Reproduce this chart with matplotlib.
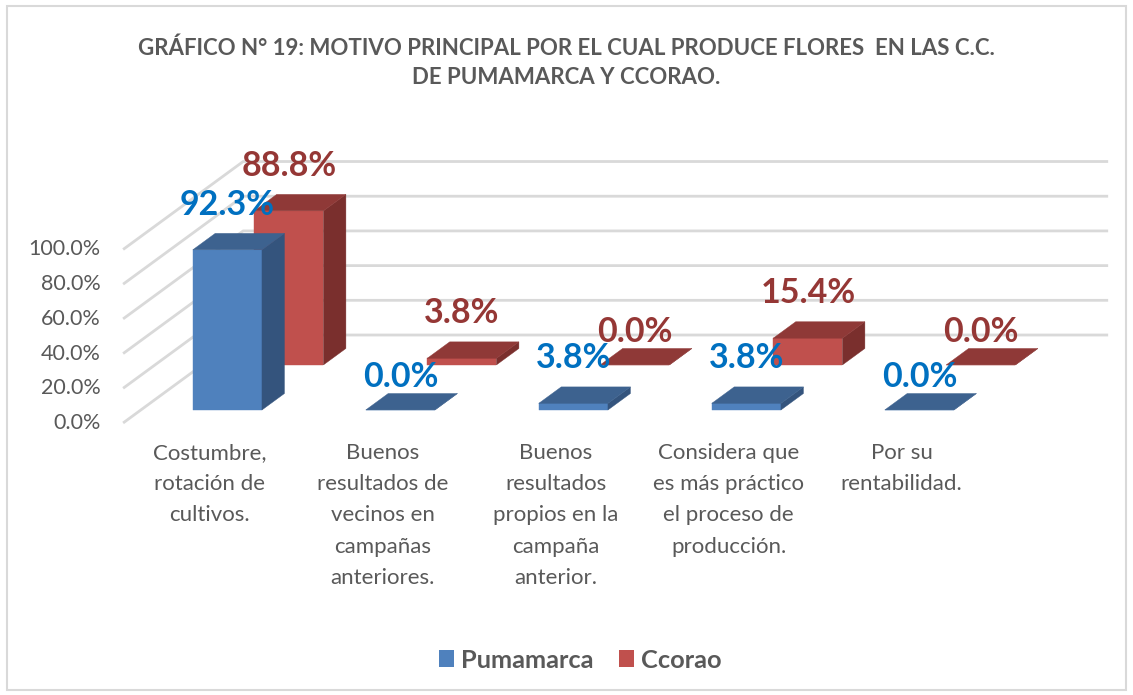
import matplotlib.pyplot as plt
from matplotlib.patches import Polygon, Patch, Rectangle

# ── Data ──────────────────────────────────────────────────────────────────────
categories = [
    "Costumbre,\nrotación de\ncultivos.",
    "Buenos\nresultados de\nvecinos en\ncampañas\nanteriores.",
    "Buenos\nresultados\npropios en la\ncampaña\nanterior.",
    "Considera que\nes más práctico\nel proceso de\nproducción.",
    "Por su\nrentabilidad.",
]
pumamarca = [92.3, 0.0, 3.8, 3.8, 0.0]
ccorao = [88.8, 3.8, 0.0, 15.4, 0.0]
series_names = ["Pumamarca", "Ccorao"]
yticks = [0, 20, 40, 60, 80, 100]

TITLE = ("GRÁFICO N° 19: MOTIVO PRINCIPAL POR EL CUAL PRODUCE FLORES  EN LAS C.C.\n"
         "DE PUMAMARCA Y CCORAO.")

# ── Style ─────────────────────────────────────────────────────────────────────
GREY = "#595959"
GRID = "#D9D9D9"
BLUE = dict(front="#4F81BD", top="#3D628F", side="#34547D", label="#0070C0")
RED = dict(front="#C0504D", top="#8F3937", side="#7A2F2D", label="#953735")

# oblique projection: a step of depth z (0 = front of wall, 1 = back wall)
# shifts a point by DX categories to the right and DY percent upward
DX, DY = 0.694, 50.7
BAR_W = 0.4
DEPTH = {"Pumamarca": (0.148, 0.335), "Ccorao": (0.66, 0.847)}

plt.rcParams["font.family"] = ["Lato", "DejaVu Sans"]

fig = plt.figure(figsize=(11.33, 6.95), dpi=100)
ax = fig.add_axes([0, 0, 1, 1])
ax.set_xlim(-1.2116, 5.3376)
ax.set_ylim(-156.8, 243.8)
ax.axis("off")


def proj(x, y, z):
    return (x + z * DX, y + z * DY)


# ── Walls / gridlines ─────────────────────────────────────────────────────────
x0, x1 = -0.5, len(categories) - 0.5
for t in yticks:
    ax.plot(*zip(proj(x0, t, 0), proj(x0, t, 1), proj(x1, t, 1)),
            color=GRID, lw=2, zorder=1, solid_capstyle="butt")
    ax.text(x0 - 0.13, t, f"{t:.1f}%", ha="right", va="center",
            fontsize=15.5, color=GREY)


# ── Bars ──────────────────────────────────────────────────────────────────────
def draw_bar(i, v, zf, zb, col, zo):
    l, r = i - BAR_W / 2, i + BAR_W / 2
    front = [proj(l, 0, zf), proj(r, 0, zf), proj(r, v, zf), proj(l, v, zf)]
    side = [proj(r, 0, zf), proj(r, 0, zb), proj(r, v, zb), proj(r, v, zf)]
    top = [proj(l, v, zf), proj(r, v, zf), proj(r, v, zb), proj(l, v, zb)]
    for pts, c in ((front, col["front"]), (side, col["side"]), (top, col["top"])):
        ax.add_patch(Polygon(pts, closed=True, facecolor=c, edgecolor=c,
                             lw=0.3, zorder=zo))


def draw_label(i, v, zf, col):
    off = 26 if v > 0 else 19
    x, y = proj(i, v, zf)
    ax.text(x, y + off, f"{v:.1f}%", ha="center", va="center",
            fontsize=24.5, fontweight="bold", color=col["label"], zorder=10)


for name, vals, col, zo in (("Ccorao", ccorao, RED, 3), ("Pumamarca", pumamarca, BLUE, 5)):
    zf, zb = DEPTH[name]
    for i, v in enumerate(vals):
        draw_bar(i, v, zf, zb, col, zo)

for name, vals, col in (("Ccorao", ccorao, RED), ("Pumamarca", pumamarca, BLUE)):
    zf, _ = DEPTH[name]
    for i, v in enumerate(vals):
        draw_label(i, v, zf, col)

# ── Category labels ───────────────────────────────────────────────────────────
for i, lab in enumerate(categories):
    ax.text(i, -11.5, lab, ha="center", va="top", fontsize=16,
            color=GREY, linespacing=1.7)

# ── Title / legend / border ───────────────────────────────────────────────────
fig.text(0.5, 1 - 63 / 695, TITLE, ha="center", va="center", fontsize=16,
         fontweight="bold", color=GREY, linespacing=1.5)

handles = [Patch(facecolor=BLUE["front"]), Patch(facecolor=RED["front"])]
fig.legend(handles, series_names, loc="center", bbox_to_anchor=(580 / 1133, 1 - 660 / 695),
           ncol=2, frameon=False, handlelength=0.62, handleheight=0.62,
           handletextpad=0.25, columnspacing=1.0,
           prop=dict(size=18.3, weight="bold"), labelcolor=GREY)

fig.patches.append(Rectangle((7 / 1133, 5 / 695), 1119 / 1133, 684 / 695,
                             transform=fig.transFigure, fill=False,
                             edgecolor=GRID, lw=1.5))

fig.savefig("out.png", dpi=100)
